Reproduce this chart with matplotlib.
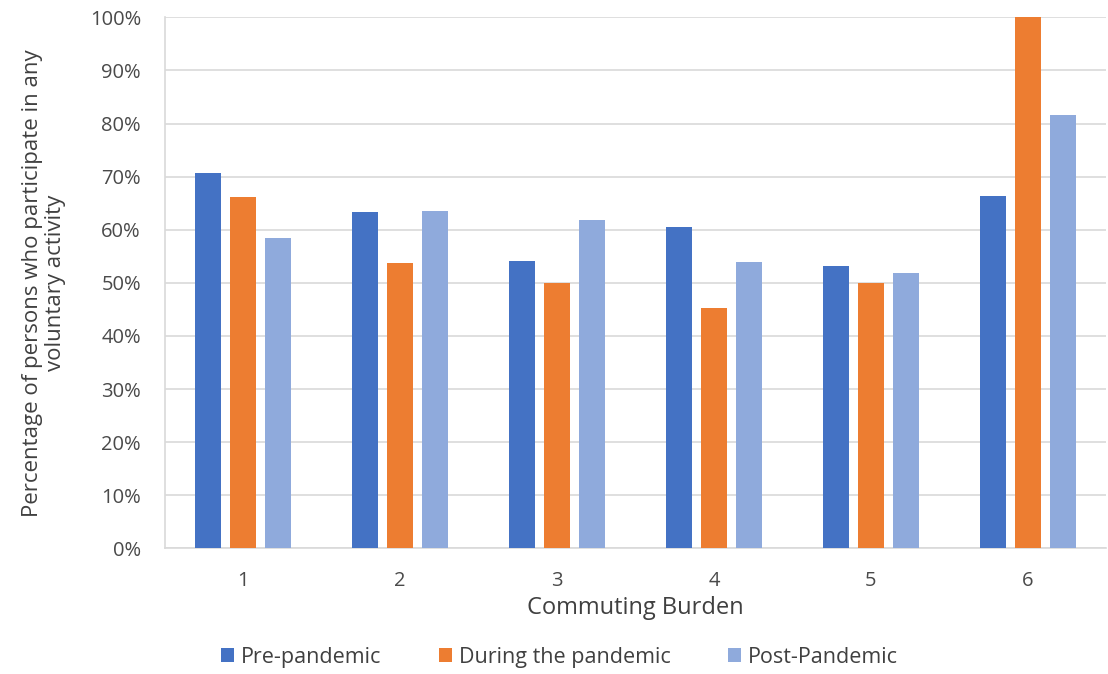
import matplotlib.pyplot as plt
import numpy as np
from matplotlib.ticker import PercentFormatter

plt.rcParams['font.family'] = ['Open Sans', 'DejaVu Sans']

categories = ['1', '2', '3', '4', '5', '6']
pre_pandemic = [70.6, 63.3, 54.2, 60.6, 53.2, 66.3]
during_pandemic = [66.1, 53.7, 50.0, 45.3, 50.0, 100.0]
post_pandemic = [58.5, 63.5, 61.9, 54.0, 51.9, 81.6]

series = [('Pre-pandemic', pre_pandemic, '#4472C4'),
          ('During the pandemic', during_pandemic, '#ED7D31'),
          ('Post-Pandemic', post_pandemic, '#8FAADC')]

fig = plt.figure(figsize=(11.08, 6.74), dpi=100)
ax = fig.add_axes([0.1485, 0.1865, 0.85, 0.7878])

x = np.arange(len(categories))
width = 0.167
step = 0.223
for i, (name, vals, col) in enumerate(series):
    ax.bar(x + (i - 1) * step, vals, width, color=col, label=name, zorder=3)

ax.set_xlim(-0.5, len(categories) - 0.5)
ax.set_ylim(0, 100)
ax.set_yticks(np.arange(0, 101, 10))
ax.yaxis.set_major_formatter(PercentFormatter(decimals=0))
ax.set_xticks(x)
ax.set_xticklabels(categories)
ax.grid(axis='y', color='#d9d9d9', linewidth=1.2, zorder=0)
for s in ['top', 'right']:
    ax.spines[s].set_visible(False)
for s in ['bottom', 'left']:
    ax.spines[s].set_color('#d9d9d9')
    ax.spines[s].set_linewidth(1.2)
ax.tick_params(axis='both', length=0, labelsize=14.5, colors='#4a4a4a')
ax.tick_params(axis='y', pad=17)
ax.tick_params(axis='x', pad=16)

ax.set_xlabel('Commuting Burden', fontsize=17, color='#404040', labelpad=4)
ax.set_ylabel('Percentage of persons who participate in any\nvoluntary activity',
              fontsize=16, color='#404040', labelpad=17, linespacing=1.15)

fig.legend(loc='center', bbox_to_anchor=(0.505, 0.025), ncol=3, frameon=False,
           fontsize=15.5, handlelength=0.6, handleheight=0.6, handletextpad=0.3,
           columnspacing=2.7, labelcolor='#404040')

fig.savefig('out.png', dpi=100)
